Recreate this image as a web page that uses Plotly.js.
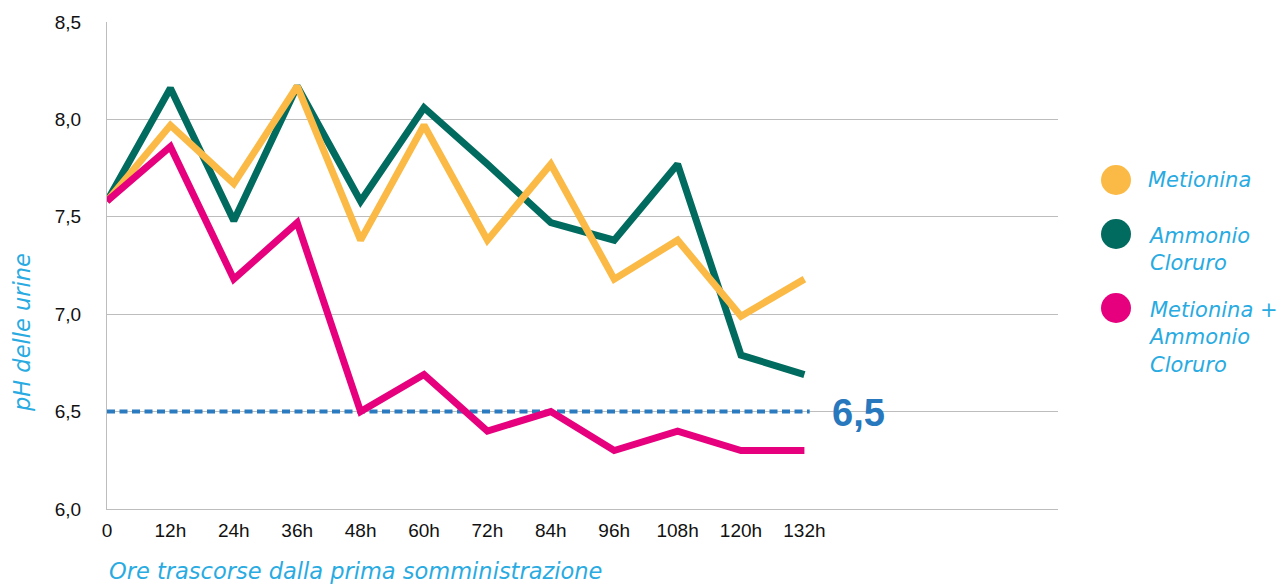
<!DOCTYPE html>
<html><head><meta charset="utf-8">
<script src="https://cdn.plot.ly/plotly-3.0.1.min.js"></script>
<style>html,body{margin:0;padding:0;background:#fff}#chart{width:1284px;height:585px}</style>
</head><body><div id="chart"></div>
<script>
const hours = [0, 12, 24, 36, 48, 60, 72, 84, 96, 108, 120, 132];
const tickLabels = ["0", "12h", "24h", "36h", "48h", "60h", "72h", "84h", "96h", "108h", "120h", "132h"];
const metionina = [7.58, 7.97, 7.67, 8.17, 7.38, 7.97, 7.38, 7.77, 7.18, 7.38, 6.99, 7.18];
const ammonio = [7.58, 8.16, 7.48, 8.17, 7.58, 8.06, 7.77, 7.47, 7.38, 7.77, 6.79, 6.69];
const combo = [7.58, 7.86, 7.18, 7.47, 6.50, 6.69, 6.40, 6.50, 6.30, 6.40, 6.30, 6.30];
const threshold = 6.5;
const thresholdLabel = "6,5";
const seriesNames = ["Metionina", "Ammonio<br>Cloruro", "Metionina +<br>Ammonio<br>Cloruro"];
const colors = ["#FBBA45", "#006B5E", "#E6007E"];

const thrX = [hours[0], hours[hours.length - 1] + 1];
const traces = [
  {x: thrX, y: thrX.map(() => threshold), mode: 'lines',
   line: {color: '#2A7BC0', width: 4, dash: '8px,4.5px'}, hoverinfo: 'skip'},
  {x: hours, y: ammonio, mode: 'lines', line: {color: colors[1], width: 7}},
  {x: hours, y: metionina, mode: 'lines', line: {color: colors[0], width: 7}},
  {x: hours, y: combo, mode: 'lines', line: {color: colors[2], width: 7}}
];

const legendFont = {family: 'DejaVu Sans', size: 21, color: '#29ABE2', style: 'italic'};
const titleFont = {family: 'DejaVu Sans', size: 22.5, color: '#29ABE2', style: 'italic'};
const legendY = [180, 234, 308];
const shapes = [];
const annotations = [];
seriesNames.forEach((n, i) => {
  shapes.push({type: 'circle', xref: 'paper', yref: 'paper',
    x0: (1101 - 107) / 951, x1: (1131 - 107) / 951,
    y0: (509 - legendY[i] - 15) / 487, y1: (509 - legendY[i] + 15) / 487,
    fillcolor: colors[i], line: {width: 0}});
  annotations.push({xref: 'paper', yref: 'paper', x: (1146 - 107) / 951, y: (509 - legendY[i] + (i === 0 ? 14 : 12)) / 487,
    xanchor: 'left', yanchor: 'top', align: 'left', showarrow: false, text: n, font: legendFont});
});
annotations.push({xref: 'paper', yref: 'y', x: (830 - 107) / 951, y: threshold - 0.005, xanchor: 'left', yanchor: 'middle',
  showarrow: false, text: '<b>' + thresholdLabel + '</b>', font: {family: 'Liberation Sans', size: 38, color: '#2878BD'}});
annotations.push({xref: 'paper', yref: 'paper', x: (22 - 107) / 951, y: (509 - 333) / 487, xanchor: 'center', yanchor: 'middle',
  textangle: -90, showarrow: false, text: 'pH delle urine', font: titleFont});
annotations.push({xref: 'paper', yref: 'paper', x: 0, y: (509 - 571) / 487, xanchor: 'left', yanchor: 'middle',
  showarrow: false, text: 'Ore trascorse dalla prima somministrazione', font: titleFont});

const tf = {family: 'Liberation Sans', size: 19, color: '#111'};
const layout = {
  width: 1284, height: 585,
  margin: {l: 107, r: 226, t: 22, b: 76},
  paper_bgcolor: '#fff', plot_bgcolor: '#fff',
  showlegend: false,
  separators: ',.',
  font: tf,
  xaxis: {range: [0, 180], tickvals: hours, ticktext: tickLabels, showgrid: false, zeroline: false,
    showline: true, linecolor: '#BDBDBD', linewidth: 1, ticks: '', ticklabelstandoff: 4, tickfont: tf},
  yaxis: {range: [6, 8.5], tickvals: [6, 6.5, 7, 7.5, 8, 8.5], tickformat: '.1f', showgrid: true,
    gridcolor: '#BDBDBD', gridwidth: 1, zeroline: false, showline: true, linecolor: '#BDBDBD', linewidth: 1,
    ticks: '', ticklabelstandoff: 21, tickfont: tf},
  shapes: shapes,
  annotations: annotations
};
Plotly.newPlot('chart', traces, layout, {displayModeBar: false, staticPlot: true});
</script></body></html>
